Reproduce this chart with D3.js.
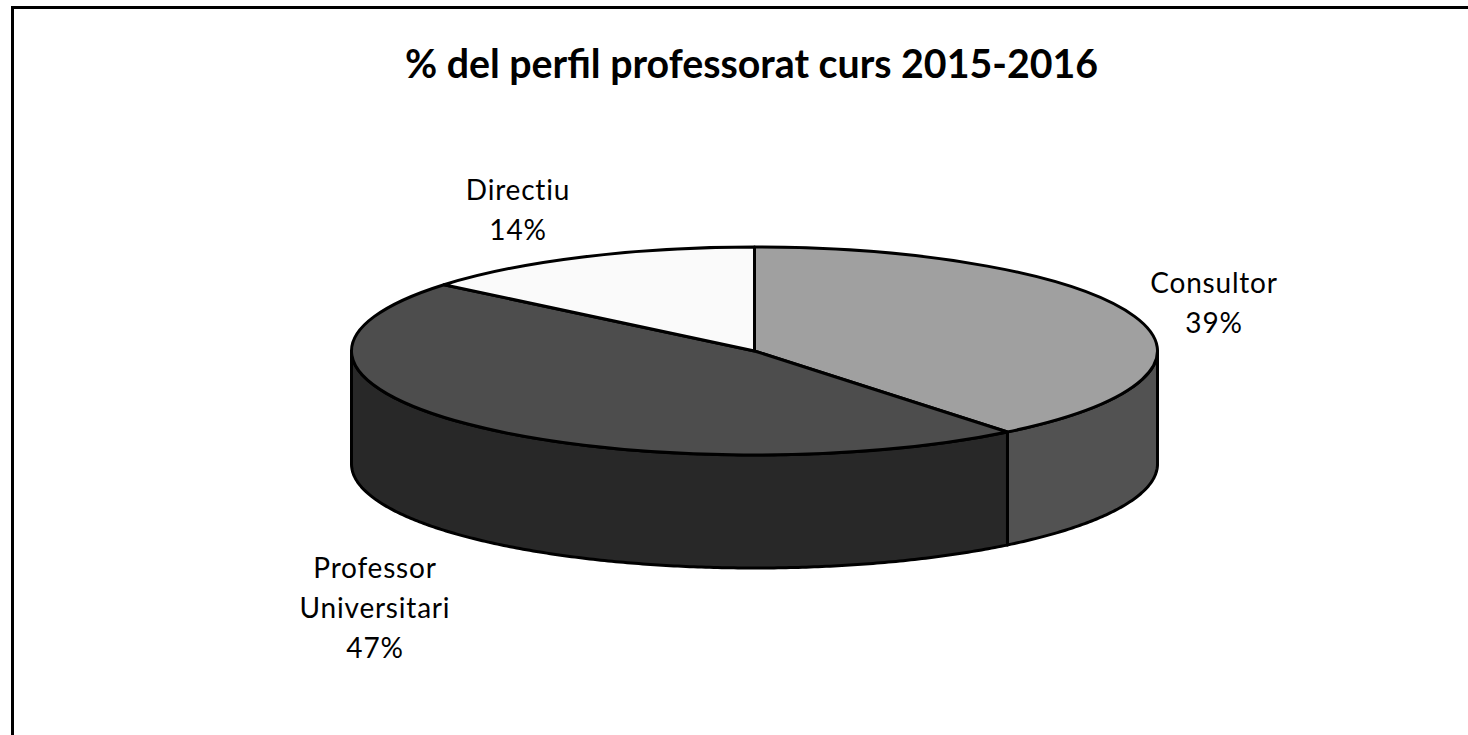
<!DOCTYPE html>
<html>
<head>
<meta charset="utf-8">
<script src="https://cdn.jsdelivr.net/npm/d3@7"></script>
<style>
  html, body { margin: 0; padding: 0; background: #fff; overflow: hidden; }
  text { font-family: Lato, "Open Sans", sans-serif; fill: #000; }
</style>
</head>
<body>
<div id="chart"></div>
<script>
// chart data
const titleText = "% del perfil professorat curs 2015-2016";
const categories = ["Consultor", "Professor Universitari", "Directiu"];
const shares = [39.2, 46.8, 14];
const topColors = ["#a0a0a0", "#4d4d4d", "#fafafa"];
const wallColors = ["#525252", "#282828", "#1a1a1a"];

// label lines, one list per slice
const labelLines = [["Consultor", "39%"], ["Professor", "Universitari", "47%"], ["Directiu", "14%"]];
const labelAnchors = [[1214, 293], [375, 578], [518, 200]];

const width = 1468, height = 735;
const cx = 754.5, cy = 351, rx = 403, ry = 104, depth = 113;

const svg = d3.select("#chart").append("svg")
  .attr("width", width)
  .attr("height", height);

svg.append("rect")
  .attr("width", width)
  .attr("height", height)
  .attr("fill", "#fff");

// only the top and left edges of the frame are in the picture
svg.append("path")
  .attr("d", d3.line()([[12.5, height], [12.5, 7.5], [width, 7.5]]))
  .attr("fill", "none")
  .attr("stroke", "#000")
  .attr("stroke-width", 3);

svg.append("text")
  .attr("x", 751.5)
  .attr("y", 78)
  .attr("text-anchor", "middle")
  .attr("font-weight", 700)
  .attr("font-size", 39.3)
  .text(titleText);

const slices = d3.pie().sort(null)(shares);

// walls, only the front half of the ellipse can be seen
const project = a => [cx + rx * Math.sin(a), cy - ry * Math.cos(a)];
const wallPath = (a0, a1) => {
  const from = Math.max(a0, Math.PI / 2), to = Math.min(a1, 3 * Math.PI / 2);
  if (to <= from) return null;
  const angles = d3.range(from, to, 0.01).concat(to);
  const upper = angles.map(project);
  const lower = angles.map(project).map(p => [p[0], p[1] + depth]).reverse();
  return d3.line()(upper.concat(lower)) + "Z";
};

svg.append("g").selectAll("path")
  .data(slices.filter(d => wallPath(d.startAngle, d.endAngle)))
  .join("path")
  .attr("d", d => wallPath(d.startAngle, d.endAngle))
  .attr("fill", d => wallColors[d.index])
  .attr("stroke", "#000")
  .attr("stroke-width", 3)
  .attr("stroke-linejoin", "round");

// top face, a circle arc squashed into the ellipse
const arc = d3.arc().innerRadius(0).outerRadius(rx);
svg.append("g")
  .attr("transform", `translate(${cx},${cy}) scale(1,${ry / rx})`)
  .selectAll("path")
  .data(slices)
  .join("path")
  .attr("d", arc)
  .attr("fill", d => topColors[d.index])
  .attr("stroke", "#000")
  .attr("stroke-width", 3)
  .attr("stroke-linejoin", "round")
  .attr("vector-effect", "non-scaling-stroke");

// data labels
const labels = svg.append("g").selectAll("text")
  .data(categories)
  .join("text")
  .attr("text-anchor", "middle")
  .attr("font-size", 28)
  .attr("letter-spacing", 0.8)
  .attr("transform", (d, i) => `translate(${labelAnchors[i]})`);

labels.selectAll("tspan")
  .data((d, i) => labelLines[i])
  .join("tspan")
  .attr("x", 0)
  .attr("y", (d, i) => i * 40)
  .text(d => d);
</script>
</body>
</html>
